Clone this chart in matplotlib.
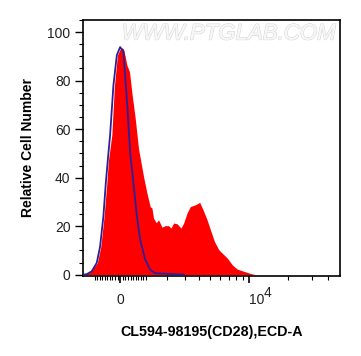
import numpy as np
import matplotlib
matplotlib.use("Agg")
import matplotlib.pyplot as plt
import matplotlib.patheffects as pe
from matplotlib.ticker import FixedLocator, NullFormatter, MultipleLocator

plt.rcParams['font.family'] = ['Liberation Sans', 'DejaVu Sans']

# Stained sample (red filled histogram)
red_x = [-1512, -1198, -890, -751, -619, -512, -450, -318, -218, -103, 0, 65, 126,
         191, 257, 357, 450, 579, 711, 914, 1056, 1198, 1272, 1343, 1466, 1572,
         1735, 1898, 2067, 2195, 2337, 2530, 2769, 2931, 3152, 3377, 3739, 4073,
         4353, 4701, 5006, 5396, 5846, 6225, 6820, 7465, 8167, 9189, 10347, 11302]
red_y = [0.0, 1.0, 4.9, 11.6, 24, 37.7, 47, 57.6, 78, 90.5, 93, 93.5, 93,
         90, 86.4, 83.7, 75, 64.6, 52, 40.5, 33.7, 28, 27.5, 23.3, 21.4, 22.6,
         19.6, 20.2, 20.2, 19.2, 21.3, 21, 19.2, 21.3, 25.4, 28.1, 28.8, 29.8,
         26.7, 22.6, 18.5, 13.7, 10.3, 8.9, 6.9, 4.1, 2.3, 1.4, 0.5, 0.0]

# Isotype control (blue outline)
blue_x = [-1512, -1343, -1125, -914, -779, -647, -552, -450, -384, -257, -126, 0,
          126, 191, 280, 384, 512, 647, 779, 985, 1198, 1420, 1898, 2931]
blue_y = [0.0, 0.2, 1.4, 4.9, 11.6, 24, 37.7, 50, 57.6, 78, 90.5, 93.8,
          92, 82, 68.6, 50, 37.7, 24, 14.4, 6.2, 2.0, 0.6, 0.4, 0.0]

W = 2208.0
def fwd(x):
    return np.arcsinh(np.asarray(x, dtype=float) / W)
def inv(y):
    return W * np.sinh(np.asarray(y, dtype=float))

fig = plt.figure(figsize=(3.61, 3.56), dpi=100)
ax = fig.add_axes([0.230, 0.225, 0.712, 0.719])
ax.set_xscale('function', functions=(fwd, inv))

ax.fill_between(red_x, red_y, 0, color='#ff0000', linewidth=0, zorder=2)
ax.plot(blue_x, blue_y, color='#2b1f9a', linewidth=1.3, zorder=3)

ax.set_xlim(-1512, 49000)
ax.set_ylim(-0.5, 105)

ax.xaxis.set_major_locator(FixedLocator([0, 10000]))
ax.set_xticklabels(['0', '10'])
labs = ax.get_xticklabels()
labs[1].set_horizontalalignment('left')
minor = [m for m in range(-1000, 1001, 100) if m != 0] + list(range(2000, 10000, 1000)) + [20000, 30000, 40000]
ax.xaxis.set_minor_locator(FixedLocator(minor))
ax.xaxis.set_minor_formatter(NullFormatter())
ax.annotate('4', xy=(10000, 0), xycoords=('data', 'axes fraction'),
            xytext=(10.5, -12), textcoords='offset points', fontsize=10,
            color='#222222', ha='left', va='center', annotation_clip=False)

ax.yaxis.set_major_locator(MultipleLocator(20))
ax.yaxis.set_minor_locator(MultipleLocator(5))

ax.tick_params(axis='x', which='major', direction='out', length=5, width=1.2,
               labelsize=10, pad=7.5, colors='black', labelcolor='#222222')
ax.tick_params(axis='x', which='minor', direction='out', length=3, width=0.8)
ax.tick_params(axis='y', which='major', direction='out', length=6, width=1.0,
               labelsize=10, pad=3, labelcolor='#222222')
ax.tick_params(axis='y', which='minor', direction='out', length=3, width=0.8)

for s in ax.spines.values():
    s.set_linewidth(1.2)
    s.set_color('black')

ax.set_ylabel('Relative Cell Number', fontsize=10, fontweight='bold', labelpad=9)
ax.set_xlabel('CL594-98195(CD28),ECD-A', fontsize=10.3, fontweight='bold', labelpad=13)

wm = ax.text(0.567, 0.945, 'WWW.PTGLAB.COM', transform=ax.transAxes, ha='center', va='center',
             fontsize=16, color='#f7f7f7', fontstyle='italic', zorder=1)
wm.set_path_effects([pe.withStroke(linewidth=0.9, foreground='#d4d4d4'), pe.Normal()])

fig.savefig('out.png', dpi=100)
